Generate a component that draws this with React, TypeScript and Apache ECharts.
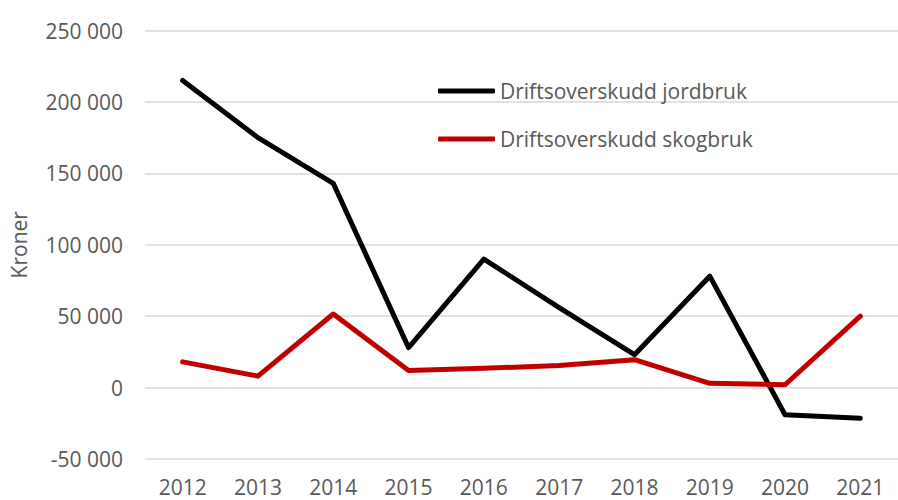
import React, { useEffect, useRef } from "react";
import * as echarts from "echarts";

const years = ["2012", "2013", "2014", "2015", "2016", "2017", "2018", "2019", "2020", "2021"];
const jordbruk = [215000, 175000, 143000, 28000, 90000, 56000, 23000, 78000, -19000, -21500];
const skogbruk = [18000, 8000, 51500, 12000, 13500, 15500, 19500, 3000, 2000, 50000];
const yTicks = [-50000, 0, 50000, 100000, 150000, 200000, 250000];
const seriesNames = ["Driftsoverskudd jordbruk", "Driftsoverskudd skogbruk"];

const FONT = "'Open Sans', 'Noto Sans', sans-serif";
const GREY = "#595959";

function fmt(v: number): string {
  const s = Math.abs(v).toString().replace(/\B(?=(\d{3})+(?!\d))/g, " ");
  return (v < 0 ? "-" : "") + s;
}

export default function App() {
  const ref = useRef<HTMLDivElement>(null);
  useEffect(() => {
    document.body.style.margin = "0";
    const chart = echarts.init(ref.current!, undefined, { renderer: "svg" });
    chart.setOption({
      animation: false,
      backgroundColor: "#ffffff",
      grid: { left: 144, right: -13, top: 30.5, bottom: 41 },
      legend: {
        orient: "vertical",
        left: 438,
        top: 79,
        padding: 0,
        itemWidth: 57,
        itemHeight: 5,
        itemGap: 24,
        icon: "roundRect",
        textStyle: { fontFamily: FONT, fontSize: 21, color: GREY, lineHeight: 24 },
        data: seriesNames,
      },
      xAxis: {
        type: "category",
        data: years,
        boundaryGap: true,
        axisLine: { show: false },
        axisTick: { show: false },
        axisLabel: { fontFamily: FONT, fontSize: 21, color: GREY, margin: 17 },
      },
      yAxis: {
        type: "value",
        min: yTicks[0],
        max: yTicks[yTicks.length - 1],
        interval: yTicks[1] - yTicks[0],
        name: "Kroner",
        nameLocation: "middle",
        nameGap: 116,
        nameRotate: 90,
        nameTextStyle: { fontFamily: FONT, fontSize: 21, color: GREY },
        axisLine: { show: false },
        axisTick: { show: false },
        splitLine: { show: true, lineStyle: { color: "#d9d9d9", width: 1.5 } },
        axisLabel: {
          fontFamily: FONT,
          fontSize: 21,
          color: GREY,
          margin: 22,
          formatter: (v: number) => fmt(v),
        },
      },
      series: [
        {
          name: seriesNames[0],
          type: "line",
          data: jordbruk,
          showSymbol: false,
          symbol: "none",
          itemStyle: { color: "#000000" },
          lineStyle: { color: "#000000", width: 5, cap: "round", join: "round" },
        },
        {
          name: seriesNames[1],
          type: "line",
          data: skogbruk,
          showSymbol: false,
          symbol: "none",
          itemStyle: { color: "#c00000" },
          lineStyle: { color: "#c00000", width: 5, cap: "round", join: "round" },
        },
      ],
    });
    return () => chart.dispose();
  }, []);
  return <div ref={ref} style={{ width: 898, height: 500, position: "absolute", left: 0, top: 0 }} />;
}
